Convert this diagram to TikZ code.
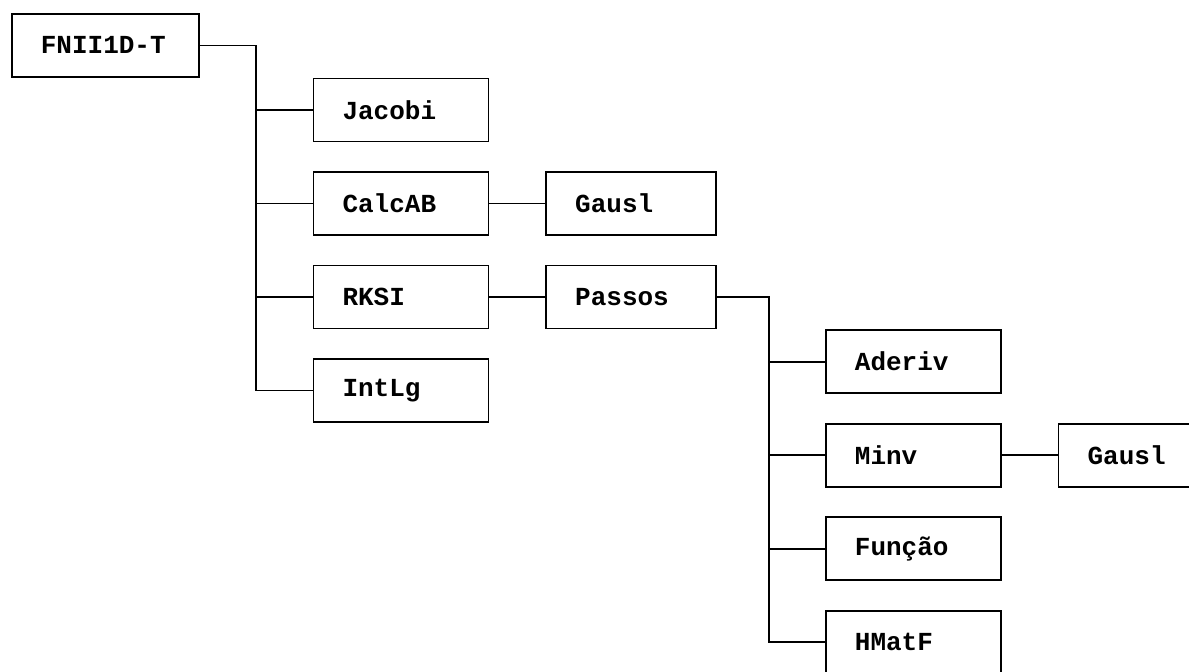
\documentclass[tikz,border=0pt]{standalone}
\usepackage{fontspec}
\setmonofont{Liberation Mono}
\usepackage{tikz}
\usetikzlibrary{positioning}
\tikzset{
  proc/.style={rectangle, draw, line width=1.2pt, minimum height=1.575cm, text width=2.925cm, inner xsep=0.725cm, align=left, font=\ttfamily\bfseries\fontsize{18.5}{20}\selectfont},
  link/.style={line width=1.2pt},
}

\begin{document}
\begin{tikzpicture}[node distance=0.72cm and 1.4cm]
  \useasboundingbox (0,0) rectangle (29.725,-16.8);

  % Nodes
  \node[proc, text width=3.225cm, anchor=north west] (root) at (0.275,-0.325) {FNII1D-T};
  \node[proc, below right=0cm and 2.825cm of root] (jacobi) {Jacobi};
  \node[proc, below=of jacobi] (calcab) {CalcAB};
  \node[proc, below=of calcab] (rksi) {RKSI};
  \node[proc, below=of rksi] (intlg) {IntLg};
  \node[proc, text width=2.8cm, right=of calcab] (gausla) {Gausl};
  \node[proc, text width=2.8cm, right=of rksi] (passos) {Passos};
  \node[proc, below right=0cm and 2.7cm of passos] (aderiv) {Aderiv};
  \node[proc, below=of aderiv] (minv) {Minv};
  \node[proc, below=of minv] (funcao) {Função};
  \node[proc, below=of funcao] (hmatf) {HMatF};
  \node[proc, right=of minv] (gauslb) {Gausl};

  % Trunks
  \coordinate[right=1.4cm of root.east] (trunka);
  \coordinate[right=1.3cm of passos.east] (trunkb);

  % Links
  \draw[link] (root.east) -- (trunka) |- (intlg.west);
  \draw[link] (trunka |- jacobi.west) -- (jacobi.west);
  \draw[link] (trunka |- calcab.west) -- (calcab.west);
  \draw[link] (trunka |- rksi.west) -- (rksi.west);
  \draw[link] (calcab) -- (gausla);
  \draw[link] (rksi) -- (passos);

  \draw[link] (passos.east) -- (trunkb) |- (hmatf.west);
  \draw[link] (trunkb |- aderiv.west) -- (aderiv.west);
  \draw[link] (trunkb |- minv.west) -- (minv.west);
  \draw[link] (trunkb |- funcao.west) -- (funcao.west);
  \draw[link] (minv) -- (gauslb);

\end{tikzpicture}
\end{document}
